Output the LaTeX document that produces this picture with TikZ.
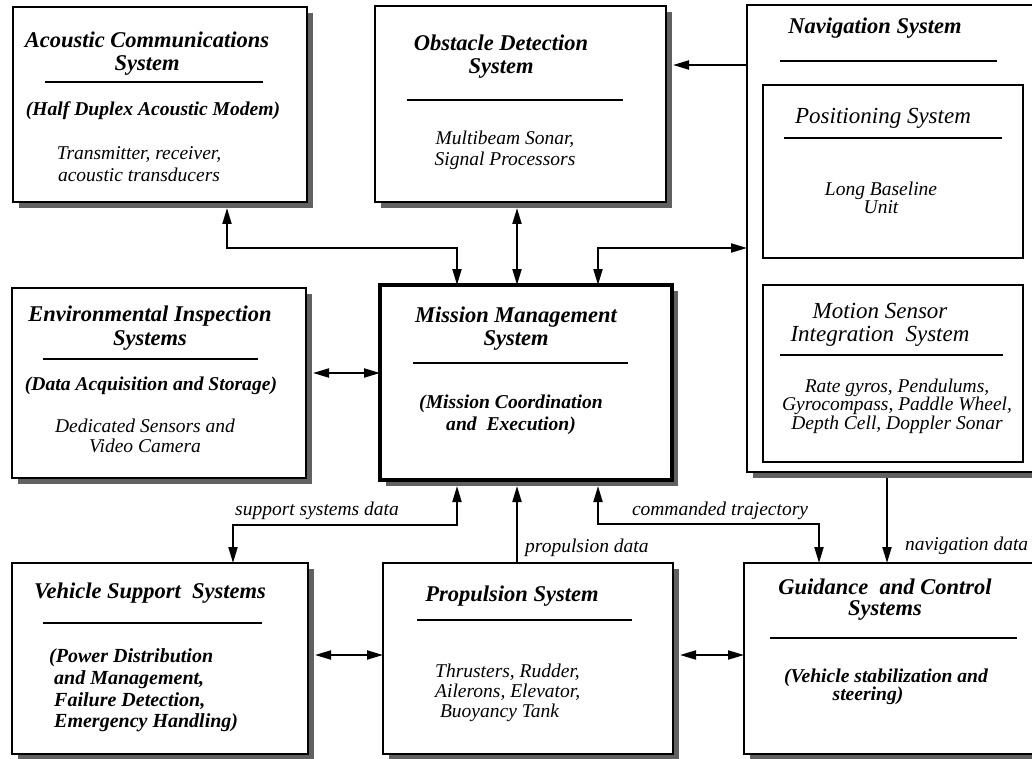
\documentclass[tikz,border=0pt]{standalone}
\usepackage{fontspec}
\setmainfont{Liberation Serif}
\usetikzlibrary{arrows.meta,calc,shadows}
\newcommand\fTitle{\fontsize{22.5}{23}\selectfont\bfseries\itshape}
\newcommand\fSub{\fontsize{19.6}{21.5}\selectfont\bfseries\itshape}
\newcommand\fBody{\fontsize{19.5}{21.5}\selectfont\itshape}
\newcommand\fInner{\fontsize{23}{22.5}\selectfont\itshape}
\begin{document}
\begin{tikzpicture}[x=1pt,y=-1pt,
  box/.style={draw, line width=1.3pt, fill=white, inner sep=0pt, outer sep=0pt,
    drop shadow={shadow xshift=6pt, shadow yshift=-6pt, opacity=1, fill=black!62}},
  inbox/.style={draw, line width=1.2pt, fill=white, inner sep=0pt, outer sep=0pt},
  rulel/.style={line width=1.2pt},
  txt/.style={inner sep=0pt, align=center, yshift=-3pt},
  ttl/.style={txt, font=\fTitle},
  sub/.style={txt, font=\fSub},
  bod/.style={txt, font=\fBody},
  lab/.style={inner sep=0pt, font=\fBody, yshift=-3pt},
  conn/.style={line width=2pt},
  dbl/.style={conn, {Triangle[length=16pt,width=9pt]}-{Triangle[length=16pt,width=9pt]}},
  sgl/.style={conn, -{Triangle[length=16pt,width=9pt]}}]
\clip (0,0) rectangle (1032,759);
\fill[white] (0,0) rectangle (1032,759);

% boxes
\node[box, minimum width=294pt, minimum height=195pt] (acs) at (160,104.5) {};
\node[box, minimum width=291pt, minimum height=196pt] (ods) at (520.5,104) {};
\node[box, minimum width=303pt, minimum height=467pt] (nav) at (898.5,238.5) {};
\node[inbox, minimum width=260pt, minimum height=173pt] (pos) at (893,171.5) {};
\node[inbox, minimum width=260pt, minimum height=177pt] (msi) at (893,373.5) {};
\node[box, minimum width=294pt, minimum height=190pt] (env) at (159,383) {};
\node[box, line width=3.5pt, minimum width=292pt, minimum height=195pt] (mms) at (526,382.5) {};
\node[box, minimum width=296pt, minimum height=191pt] (vss) at (160,658.5) {};
\node[box, minimum width=290pt, minimum height=191pt] (prop) at (528,658.5) {};
\node[box, minimum width=306pt, minimum height=191pt] (gcs) at (897,658.5) {};

% Acoustic
\node[ttl] (acs-t) at (147,51) {Acoustic Communications\\System};
\draw[rulel] (45,82) -- (263,82);
\node[sub] (acs-s) at (153,108) {(Half Duplex Acoustic Modem)};
\node[bod] (acs-b) at (139,161) {Transmitter, receiver,\\acoustic transducers};

% Obstacle
\node[ttl] (ods-t) at (501,54) {Obstacle Detection\\System};
\draw[rulel] (407,100) -- (623,100);
\node[bod, font=\fontsize{19.5}{21}\selectfont\itshape] (ods-b) at (505,147) {Multibeam Sonar,\\Signal Processors};

% Navigation
\node[ttl] (nav-t) at (875,25) {Navigation System};
\draw[rulel] (780,61) -- (997,61);
\node[txt, font=\fInner] (pos-t) at (883,115) {Positioning System};
\draw[rulel] (784,138) -- (1002,138);
\node[bod, font=\fontsize{19.5}{15.5}\selectfont\itshape] (pos-b) at (881,195) {Long Baseline\\Unit};
\node[txt, font=\fInner] (msi-t) at (880,322) {Motion Sensor\\Integration~~System};
\draw[rulel] (780,355) -- (1003,355);
\node[bod, font=\fontsize{19.5}{18.5}\selectfont\itshape] (msi-b) at (897,403) {Rate gyros, Pendulums,\\Gyrocompass, Paddle Wheel,\\Depth Cell, Doppler Sonar};

% Environmental
\node[ttl, font=\fontsize{22.5}{24}\selectfont\bfseries\itshape] (env-t) at (150,325) {Environmental Inspection\\Systems};
\draw[rulel] (43,359) -- (258,359);
\node[sub] (env-s) at (151,383) {(Data Acquisition and Storage)};
\node[bod, font=\fontsize{19.5}{20}\selectfont\itshape] (env-b) at (145,433) {Dedicated Sensors and\\Video Camera};

% Mission
\node[ttl] (mms-t) at (516,326) {Mission Management\\System};
\draw[rulel] (413,363) -- (628,363);
\node[sub] (mms-b) at (511,412) {(Mission Coordination\\and~~Execution)};

% Vehicle support
\node[ttl] (vss-t) at (150,590) {Vehicle Support~~Systems};
\draw[rulel] (43,623) -- (262,623);
\node[sub, align=left, anchor=west, font=\fontsize{20}{21.7}\selectfont\bfseries\itshape] (vss-b) at (49,687.5) {(Power Distribution\\\ and Management,\\\ Failure Detection,\\\ Emergency Handling)};

% Propulsion
\node[ttl] (prop-t) at (512,593) {Propulsion System};
\draw[rulel] (417,620) -- (632,620);
\node[bod, align=left, anchor=west, font=\fontsize{19.5}{20}\selectfont\itshape] (prop-b) at (435,690) {Thrusters, Rudder,\\Ailerons, Elevator,\\\ Buoyancy Tank};

% Guidance
\node[ttl, font=\fontsize{22.5}{21}\selectfont\bfseries\itshape] (gcs-t) at (885,597) {Guidance~~and Control\\Systems};
\draw[rulel] (770,638) -- (1017,638);
\node[sub, font=\fontsize{19.6}{18.5}\selectfont\bfseries\itshape] (gcs-b) at (886,684) {(Vehicle stabilization and\\steering)\hspace*{36pt}};

% routing coordinates
\coordinate (c1) at (227,248);
\coordinate (c2) at (457,248);
\coordinate (c3) at (517,248);
\coordinate (c4) at (598,248);
\coordinate (c5) at (747,65);
\coordinate (c6) at (0,373);
\coordinate (c7) at (457,525);
\coordinate (c8) at (233,525);
\coordinate (c9) at (517,0);
\coordinate (c10) at (598,524);
\coordinate (c11) at (819,524);
\coordinate (c12) at (887,0);
\coordinate (c13) at (0,655);

% connectors
\draw[dbl] ($(acs.south -| c1)+(0,6)$) -- (c1) -- (c2) -- (mms.north -| c2);
\draw[dbl] ($(ods.south -| c3)+(0,6)$) -- (mms.north -| c3);
\draw[dbl] (mms.north -| c4) -- (c4) -- (c4 -| nav.west);
\draw[sgl] (nav.west |- c5) -- ($(ods.east |- c5)+(7,0)$);
\draw[dbl] ($(env.east |- c6)+(7,0)$) -- (mms.west |- c6);
\draw[dbl] ($(mms.south -| c7)+(0,6)$) -- (c7) -- (c8) -- (vss.north -| c8);
\draw[sgl] (prop.north -| c9) -- ($(mms.south -| c9)+(0,6)$);
\draw[dbl] ($(mms.south -| c10)+(0,6)$) -- (c10) -- (c11) -- (gcs.north -| c11);
\draw[sgl] ($(nav.south -| c12)+(0,6)$) -- (gcs.north -| c12);
\draw[dbl] ($(vss.east |- c13)+(7,0)$) -- (prop.west |- c13);
\draw[dbl] ($(prop.east |- c13)+(7,0)$) -- (gcs.west |- c13);

% labels
\node[lab] (lab-ssd) at (317,508) {support systems data};
\node[lab] (lab-ct) at (720,508) {commanded trajectory};
\node[lab, anchor=west] (lab-pd) at (525,545) {propulsion data};
\node[lab, anchor=west] (lab-nd) at (905,543) {navigation data};
\end{tikzpicture}
\end{document}
